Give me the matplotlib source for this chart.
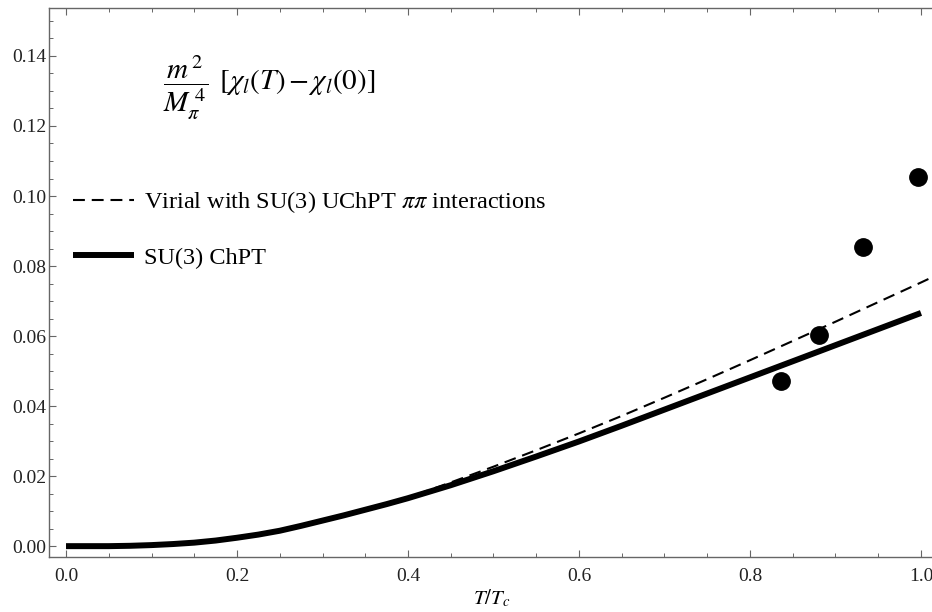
import numpy as np
import matplotlib
matplotlib.use('Agg')
import matplotlib.pyplot as plt
from matplotlib.ticker import MultipleLocator, FormatStrFormatter

plt.rcParams['font.family'] = ['Liberation Serif', 'DejaVu Serif']
plt.rcParams['mathtext.fontset'] = 'stix'

##### curve values
T = [0.0, 0.025, 0.05, 0.075, 0.10, 0.125, 0.15, 0.175, 0.20, 0.225, 0.25,
     0.275, 0.30, 0.325, 0.35, 0.375, 0.40, 0.45, 0.50, 0.55, 0.60, 0.65,
     0.70, 0.75, 0.80, 0.85, 0.90, 0.95, 1.00]
chpt = [0.0, 0.0, 0.0, 0.0001, 0.0003, 0.0006, 0.0010, 0.0016, 0.0024,
        0.0033, 0.0044, 0.0058, 0.0073, 0.0088, 0.0104, 0.0120, 0.0137,
        0.0174, 0.0214, 0.0256, 0.0299, 0.0344, 0.0390, 0.0436, 0.0482,
        0.0528, 0.0574, 0.0620, 0.0666]

T_vir = [0.0, 0.025, 0.05, 0.075, 0.10, 0.125, 0.15, 0.175, 0.20, 0.225,
         0.25, 0.275, 0.30, 0.325, 0.35, 0.375, 0.40, 0.45, 0.50, 0.55,
         0.60, 0.65, 0.70, 0.75, 0.80, 0.85, 0.90, 0.95, 1.00, 1.02]
virial = [0.0, 0.0, 0.0, 0.0001, 0.0003, 0.0006, 0.0010, 0.0016, 0.0024,
          0.0033, 0.0044, 0.0058, 0.0073, 0.0088, 0.0104, 0.0121, 0.0139,
          0.0182, 0.0227, 0.0274, 0.0322, 0.0372, 0.0424, 0.0477, 0.0531,
          0.0586, 0.0641, 0.0697, 0.0753, 0.0776]

# lattice points
T_lat = [0.836, 0.881, 0.932, 0.997]
chi_lat = [0.0471, 0.0603, 0.0854, 0.1054]

fig = plt.figure(figsize=(9.32, 6.12), dpi=100)
ax = fig.add_axes([49/932, 55/612, 886/932, 549/612])

ax.plot(T_vir, virial, color='black', lw=1.5, linestyle=(0, (5.7, 3.3)),
        label=r'Virial with SU(3) UChPT $\pi\pi$ interactions')
ax.plot(T, chpt, color='black', lw=4.3, solid_capstyle='butt',
        label='SU(3) ChPT')
ax.plot(T_lat, chi_lat, 'o', color='black', markersize=12.5)

ax.set_xlim(-0.0199, 1.0164)
ax.set_ylim(-0.0031, 0.1537)

ax.xaxis.set_major_locator(MultipleLocator(0.2))
ax.xaxis.set_minor_locator(MultipleLocator(0.05))
ax.yaxis.set_major_locator(MultipleLocator(0.02))
ax.yaxis.set_minor_locator(MultipleLocator(0.005))
ax.xaxis.set_major_formatter(FormatStrFormatter('%.1f'))
ax.yaxis.set_major_formatter(FormatStrFormatter('%.2f'))

for s in ax.spines.values():
    s.set_color('#666666')
    s.set_linewidth(1.0)
ax.tick_params(which='both', direction='in', top=True, right=False,
               color='#666666', labelsize=14, labelcolor='#222222')
ax.tick_params(axis='x', pad=8)
ax.tick_params(axis='y', pad=2)
ax.tick_params(which='major', length=5, width=0.8)
ax.tick_params(which='minor', length=3, width=0.7)

ax.set_xlabel(r'$T/T_c$', fontsize=15, labelpad=2)

ax.text(0.129, 0.856,
        r'$\dfrac{m^{\,2}}{M_{\pi}^{\;4}}\;\,[\chi_l(T)\,{-}\,\chi_l(0)]$',
        transform=ax.transAxes, fontsize=21, va='center', ha='left')

ax.legend(loc='upper left', bbox_to_anchor=(0.022, 0.679), frameon=False,
          fontsize=17.5, handlelength=2.5, handletextpad=0.4,
          labelspacing=1.3, borderpad=0.2, borderaxespad=0.0)

plt.savefig('out.png', dpi=100)
